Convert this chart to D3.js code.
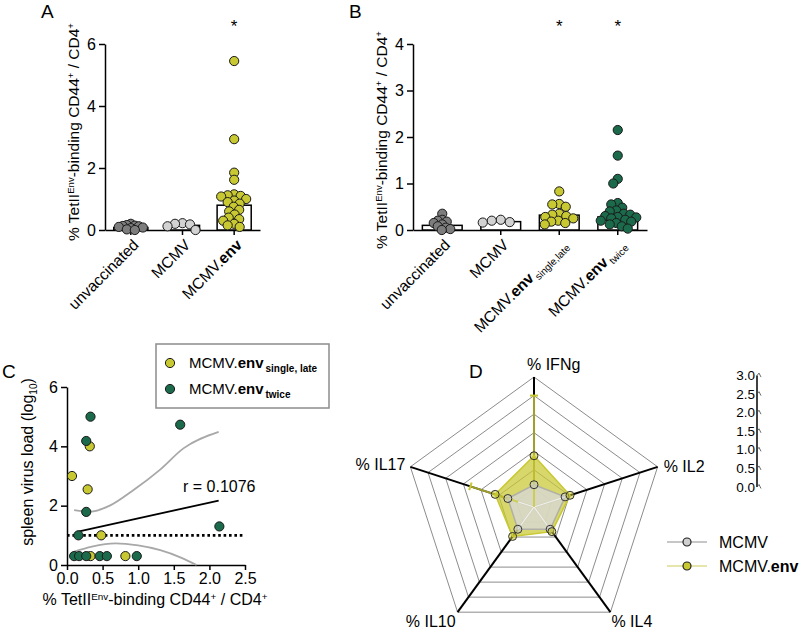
<!DOCTYPE html>
<html>
<head>
<meta charset="utf-8">
<script src="https://cdn.jsdelivr.net/npm/d3@7"></script>
<style>
  body { margin: 0; background: #fff; }
</style>
</head>
<body>
<svg id="fig" width="800" height="633"></svg>
<script>
// ---- data ----
var groupsA = ["unvaccinated", "MCMV", "MCMV.env"];
var barsA = [0.08, 0.15, 0.8];
var unvacA = [0.2, 0.16, 0.13, 0.1, 0.06, 0.0, 0.02, 0.08, 0.14, 0.12];
var mcmvA = [0.22, 0.18, 0.0, 0.12, 0.2];
var envA = [5.45, 2.93, 1.85, 1.62, 1.15, 1.12, 1.1, 1.08, 1.0, 0.95, 0.9, 0.85,
            0.75, 0.65, 0.6, 0.5, 0.4, 0.35, 0.3, 0.2, 0.15, 0.1];
var colorsA = ["#7d7d7d", "#d2d2d2", "#c8c832"];

var groupsB = ["unvaccinated", "MCMV", "MCMV.env_single,late", "MCMV.env_twice"];
var barsB = [0.1, 0.18, 0.32, 0.28];
var unvacB = [0.35, 0.22, 0.2, 0.18, 0.15, 0.12, 0.08, 0.05, 0.02, 0.0];
var mcmvB = [0.22, 0.2, 0.17, 0.16];
var singleB = [0.83, 0.56, 0.55, 0.5, 0.35, 0.33, 0.3, 0.28, 0.25, 0.2, 0.18, 0.15, 0.12];
var twiceB = [2.15, 1.6, 1.1, 1.0, 0.58, 0.55, 0.48, 0.42, 0.4, 0.35, 0.33, 0.3, 0.28,
              0.27, 0.25, 0.22, 0.2, 0.18, 0.15, 0.12, 0.08, 0.03];
var colorsB = ["#7d7d7d", "#d2d2d2", "#c8c832", "#1b6a4b"];

// panel C: [tetramer %, log10 virus load]
var singleC = [[0.07, 3.0], [0.29, 2.55], [0.32, 4.0], [0.48, 1.0], [0.33, 0.3], [0.82, 0.3]];
var twiceC = [[0.33, 5.0], [0.27, 4.18], [0.27, 1.79], [0.16, 1.0], [1.59, 4.73], [2.14, 1.3],
              [0.1, 0.3], [0.17, 0.3], [0.27, 0.3], [0.46, 0.3], [0.56, 0.3], [0.98, 0.3]];
var fitC = [[0.14, 1.12], [2.13, 2.17]];
var upperC = [[0.1, 1.85], [0.33, 1.8], [0.6, 2.0], [0.93, 2.52], [1.3, 3.2], [1.64, 3.94], [2.13, 4.49]];
var lowerC = [[0.1, 0.45], [0.35, 0.62], [0.68, 0.73], [1.0, 0.66], [1.31, 0.5], [1.6, 0.25], [1.82, 0.0]];
var detectionC = 1.0;
var corrText = "r = 0.1076";

// panel D
var cytokines = ["% IFNg", "% IL2", "% IL4", "% IL10", "% IL17"];
var mcmvD = [0.6, 0.88, 0.74, 0.74, 0.74];
var envD = [1.38, 1.02, 0.82, 0.98, 1.1];
var envErrD = [[0, 3.0], null, null, null, [0.45, 1.8]];
var ringsD = [0.5, 1.0, 1.5, 2.0, 2.5, 3.0, 3.5];
var scaleTicksD = [0, 0.5, 1.0, 1.5, 2.0, 2.5, 3.0];

var FONT = "'Liberation Sans', Arial, Helvetica, sans-serif";
var svg = d3.select("#fig").attr("font-family", FONT);

// ---- helpers ----
function swarm(values, y, minD) {
  // simple beeswarm: each point gets the smallest x offset that avoids overlaps
  var placed = [];
  values.slice().sort(function (a, b) { return b - a; }).forEach(function (v) {
    var py = y(v);
    for (var k = 0; k < 400; k++) {
      var off = (k % 2 ? -1 : 1) * Math.ceil(k / 2) * 0.5;
      var hit = placed.some(function (q) {
        var dx = q.x - off, dy = q.y - py;
        return dx * dx + dy * dy < minD * minD;
      });
      if (!hit) { placed.push({x: off, y: py, v: v}); break; }
    }
  });
  return placed;
}

function styleAxis(g, fs) {
  g.attr("font-size", fs).attr("font-family", FONT);
  g.select(".domain").attr("stroke-width", 1.5);
  g.selectAll(".tick line").attr("stroke-width", 1.5);
  g.selectAll(".tick text").attr("fill", "#000");
}

function tetLabel(sel, fs) {
  var s = fs * 0.62;
  sel.append("tspan").text("% TetII");
  sel.append("tspan").attr("font-size", s).attr("dy", -5).text("Env");
  sel.append("tspan").attr("dy", 5).text("-binding CD44");
  sel.append("tspan").attr("font-size", s).attr("dy", -5).text("+");
  sel.append("tspan").attr("dy", 5).text(" / CD4");
  sel.append("tspan").attr("font-size", s).attr("dy", -5).text("+");
}

function catLabel(sel, name, subSize, subBold) {
  var parts = name.split("_");
  if (parts[0] === "MCMV.env") {
    sel.append("tspan").text("MCMV.");
    sel.append("tspan").attr("font-weight", "bold").text("env");
  } else {
    sel.append("tspan").text(parts[0]);
  }
  if (parts[1]) {
    sel.append("tspan").attr("font-size", subSize).attr("dy", 4).attr("dx", 2)
      .attr("font-weight", subBold ? "bold" : "normal").text(parts[1]);
  }
}

function dotPanel(opts) {
  var x = d3.scaleBand().domain(opts.groups).range([opts.x0, opts.x1]);
  var y = d3.scaleLinear().domain([0, opts.ymax]).range([opts.y0, opts.y1]);
  var g = svg.append("g");

  g.append("g").attr("transform", "translate(" + opts.x0 + ",0)")
    .call(d3.axisLeft(y).tickValues(opts.yticks).tickFormat(d3.format("d"))
      .tickSize(6).tickSizeOuter(0).tickPadding(3))
    .call(styleAxis, 16);
  g.append("g").attr("transform", "translate(0," + opts.y0 + ")")
    .call(d3.axisBottom(x).tickSize(5).tickSizeOuter(0).tickFormat(""))
    .call(styleAxis, 16);

  var bw = x.bandwidth() * opts.barFrac;
  g.selectAll("rect.bar").data(opts.bars).enter().append("rect")
    .attr("class", "bar")
    .attr("x", function (d, i) { return x(opts.groups[i]) + (x.bandwidth() - bw) / 2; })
    .attr("y", function (d) { return y(d); })
    .attr("width", bw)
    .attr("height", function (d) { return opts.y0 - y(d); })
    .attr("fill", "#fff").attr("stroke", "#000").attr("stroke-width", 1.5);

  opts.series.forEach(function (vals, i) {
    var cx = x(opts.groups[i]) + x.bandwidth() / 2;
    g.append("g").selectAll("circle").data(swarm(vals, y, opts.gaps[i])).enter().append("circle")
      .attr("cx", function (d) { return cx + d.x; })
      .attr("cy", function (d) { return d.y; })
      .attr("r", 4.6)
      .attr("fill", opts.colors[i]).attr("stroke", "#1a1a1a").attr("stroke-width", 1);
  });

  opts.groups.forEach(function (name, i) {
    var cx = x(name) + x.bandwidth() / 2;
    var t = g.append("text")
      .attr("transform", "translate(" + (cx + 5) + "," + (opts.y0 + 12) + ") rotate(-45)")
      .attr("text-anchor", "end").attr("font-size", 15.5).attr("dy", "0.35em");
    catLabel(t, name, 10, false);
  });

  opts.stars.forEach(function (i) {
    g.append("text").attr("x", x(opts.groups[i]) + x.bandwidth() / 2).attr("y", 32)
      .attr("text-anchor", "middle").attr("font-size", 17).text("*");
  });

  var yl = g.append("text")
    .attr("transform", "translate(" + opts.ylabX + "," + opts.ylabY + ") rotate(-90)")
    .attr("text-anchor", "middle").attr("font-size", 15.5);
  tetLabel(yl, 15.5);

  g.append("text").attr("x", opts.letterX).attr("y", 18).attr("font-size", 19).text(opts.letter);
}

// ---- panel A ----
dotPanel({
  groups: groupsA, bars: barsA, series: [unvacA, mcmvA, envA], colors: colorsA,
  gaps: [4, 7.5, 6.2],
  x0: 105, x1: 260, y0: 230, y1: 44, ymax: 6, yticks: [0, 2, 4, 6],
  barFrac: 0.66, stars: [2], ylabX: 79, ylabY: 132, letter: "A", letterX: 41
});

// ---- panel B ----
dotPanel({
  groups: groupsB, bars: barsB, series: [unvacB, mcmvB, singleB, twiceB], colors: colorsB,
  gaps: [4.5, 9, 7, 6.2],
  x0: 413, x1: 647, y0: 230, y1: 44, ymax: 4, yticks: [0, 1, 2, 3, 4],
  barFrac: 0.68, stars: [2, 3], ylabX: 387, ylabY: 140, letter: "B", letterX: 349
});

// ---- panel C ----
(function () {
  var x = d3.scaleLinear().domain([0, 2.5]).range([67, 245]);
  var y = d3.scaleLinear().domain([0, 6]).range([565, 387]);
  var g = svg.append("g");

  g.append("g").attr("transform", "translate(67,0)")
    .call(d3.axisLeft(y).tickValues([0, 2, 4, 6]).tickFormat(d3.format("d"))
      .tickSize(6).tickSizeOuter(0).tickPadding(3))
    .call(styleAxis, 16);
  g.append("g").attr("transform", "translate(0,565)")
    .call(d3.axisBottom(x).tickValues([0, 0.5, 1, 1.5, 2, 2.5]).tickFormat(d3.format(".1f"))
      .tickSize(5).tickSizeOuter(0).tickPadding(3))
    .call(styleAxis, 16);

  g.append("line")
    .attr("x1", x(0)).attr("x2", x(2.5)).attr("y1", y(detectionC)).attr("y2", y(detectionC))
    .attr("stroke", "#000").attr("stroke-width", 2.6).attr("stroke-dasharray", "2.6,2.8");

  var curve = d3.line().x(function (d) { return x(d[0]); }).y(function (d) { return y(d[1]); })
    .curve(d3.curveMonotoneX);
  [upperC, lowerC].forEach(function (band) {
    g.append("path").attr("d", curve(band)).attr("fill", "none")
      .attr("stroke", "#a8a8a8").attr("stroke-width", 1.8);
  });
  g.append("path").attr("d", d3.line().x(function (d) { return x(d[0]); })
      .y(function (d) { return y(d[1]); })(fitC))
    .attr("fill", "none").attr("stroke", "#000").attr("stroke-width", 1.8);

  [[singleC, colorsB[2]], [twiceC, colorsB[3]]].forEach(function (s) {
    g.append("g").selectAll("circle").data(s[0]).enter().append("circle")
      .attr("cx", function (d) { return x(d[0]); })
      .attr("cy", function (d) { return y(d[1]); })
      .attr("r", 4.6).attr("fill", s[1]).attr("stroke", "#1a1a1a").attr("stroke-width", 1);
  });

  g.append("text").attr("x", 183).attr("y", 492).attr("font-size", 16).text(corrText);

  var yl = g.append("text").attr("transform", "translate(33,462) rotate(-90)")
    .attr("text-anchor", "middle").attr("font-size", 16);
  yl.append("tspan").text("spleen virus load (log");
  yl.append("tspan").attr("font-size", 10).attr("dy", 4).text("10");
  yl.append("tspan").attr("dy", -4).text(")");

  var xl = g.append("text").attr("x", 155).attr("y", 605).attr("text-anchor", "middle").attr("font-size", 16);
  tetLabel(xl, 16);

  // legend
  var lg = g.append("g");
  lg.append("rect").attr("x", 156).attr("y", 344).attr("width", 173).attr("height", 64)
    .attr("fill", "#fff").attr("stroke", "#8c8c8c").attr("stroke-width", 1.5);
  [["MCMV.env_single, late", colorsB[2]], ["MCMV.env_twice", colorsB[3]]].forEach(function (e, i) {
    var yy = 363 + i * 26;
    lg.append("circle").attr("cx", 170).attr("cy", yy).attr("r", 4.6)
      .attr("fill", e[1]).attr("stroke", "#1a1a1a");
    var t = lg.append("text").attr("x", 189).attr("y", yy + 5).attr("font-size", 15);
    catLabel(t, e[0], 10, true);
  });

  g.append("text").attr("x", 2).attr("y", 378).attr("font-size", 19).text("C");
})();

// ---- panel D: radar ----
(function () {
  var cx = 534, cy = 507, R = 130;
  var r = d3.scaleLinear().domain([0, 3.5]).range([0, R]);
  var ang = function (i) { return -Math.PI / 2 + i * 2 * Math.PI / cytokines.length; };
  var pt = function (i, v) { return [cx + r(v) * Math.cos(ang(i)), cy + r(v) * Math.sin(ang(i))]; };
  var g = svg.append("g");

  ringsD.forEach(function (v) {
    g.append("polygon")
      .attr("points", cytokines.map(function (c, i) { return pt(i, v).join(","); }).join(" "))
      .attr("fill", "none").attr("stroke", "#8c8c8c").attr("stroke-width", 1);
  });
  cytokines.forEach(function (c, i) {
    var p = pt(i, 3.5);
    g.append("line").attr("x1", cx).attr("y1", cy).attr("x2", p[0]).attr("y2", p[1])
      .attr("stroke", "#000").attr("stroke-width", 2);
  });

  var poly = function (vals) {
    return vals.map(function (v, i) { return pt(i, v).join(","); }).join(" ");
  };
  g.append("polygon").attr("points", poly(envD))
    .attr("fill", "#c8c832").attr("fill-opacity", 0.72)
    .attr("stroke", "#c8c832").attr("stroke-width", 1.5);
  g.append("polygon").attr("points", poly(mcmvD))
    .attr("fill", "#d8d8d0").attr("fill-opacity", 0.85)
    .attr("stroke", "#b0b0a8").attr("stroke-width", 1.5);

  // faint spokes inside the MCMV area
  mcmvD.forEach(function (v, i) {
    var p = pt(i, v);
    g.append("line").attr("x1", cx).attr("y1", cy).attr("x2", p[0]).attr("y2", p[1])
      .attr("stroke", "#f0f0ec").attr("stroke-width", 1.2);
  });

  envErrD.forEach(function (e, i) {
    if (!e) return;
    var a = pt(i, e[0]), b = pt(i, e[1]);
    g.append("line").attr("x1", a[0]).attr("y1", a[1]).attr("x2", b[0]).attr("y2", b[1])
      .attr("stroke", "#c8c832").attr("stroke-width", 2).attr("stroke-opacity", 0.8);
    var t = ang(i) + Math.PI / 2;
    g.append("line")
      .attr("x1", b[0] - 4 * Math.cos(t)).attr("y1", b[1] - 4 * Math.sin(t))
      .attr("x2", b[0] + 4 * Math.cos(t)).attr("y2", b[1] + 4 * Math.sin(t))
      .attr("stroke", "#c8c832").attr("stroke-width", 2);
  });

  [[mcmvD, "#cfcfcf"], [envD, "#c8c832"]].forEach(function (s) {
    g.append("g").selectAll("circle").data(s[0]).enter().append("circle")
      .attr("cx", function (d, i) { return pt(i, d)[0]; })
      .attr("cy", function (d, i) { return pt(i, d)[1]; })
      .attr("r", 4).attr("fill", s[1]).attr("fill-opacity", 0.55)
      .attr("stroke", "#333").attr("stroke-width", 1);
  });

  // axis labels
  var lab = [
    {dx: -7, dy: -7, a: "start"}, {dx: 6, dy: 5, a: "start"}, {dx: 1, dy: 15, a: "start"},
    {dx: -2, dy: 15, a: "end"}, {dx: -5, dy: 3, a: "end"}
  ];
  cytokines.forEach(function (c, i) {
    var p = pt(i, 3.5);
    g.append("text").attr("x", p[0] + lab[i].dx).attr("y", p[1] + lab[i].dy)
      .attr("text-anchor", lab[i].a).attr("font-size", 16).text(c);
  });

  // value scale
  var ys = d3.scaleLinear().domain([0, 3]).range([cy - 20, cy - 20 - r(3)]);
  var sg = g.append("g").attr("transform", "translate(757,0)");
  sg.append("line").attr("y1", ys(0)).attr("y2", ys(3)).attr("stroke", "#000").attr("stroke-width", 1.5);
  sg.selectAll("path.tk").data(scaleTicksD).enter().append("path")
    .attr("d", function (d) { return "M0," + ys(d) + "l2,-2.5l2,4"; })
    .attr("fill", "none").attr("stroke", "#444").attr("stroke-width", 0.8);
  sg.selectAll("text").data(scaleTicksD).enter().append("text")
    .attr("x", -2).attr("y", function (d) { return ys(d) + 4.5; })
    .attr("text-anchor", "end").attr("font-size", 13.5).text(d3.format(".1f"));

  // legend
  [["MCMV", "#b4b4b4", "#cfcfcf"], ["MCMV.env", "#dede90", "#c8c832"]].forEach(function (e, i) {
    var yy = 542 + i * 24;
    g.append("line").attr("x1", 667).attr("x2", 707).attr("y1", yy).attr("y2", yy)
      .attr("stroke", e[1]).attr("stroke-width", 1.5);
    g.append("circle").attr("cx", 687).attr("cy", yy).attr("r", 4)
      .attr("fill", e[2]).attr("stroke", "#222").attr("stroke-width", 1.2);
    var t = g.append("text").attr("x", 719).attr("y", yy + 6).attr("font-size", 16);
    catLabel(t, e[0], 10, false);
  });

  g.append("text").attr("x", 469).attr("y", 378).attr("font-size", 19).text("D");
})();
</script>
</body>
</html>
